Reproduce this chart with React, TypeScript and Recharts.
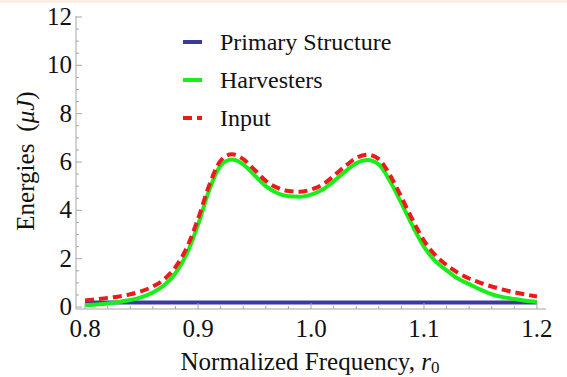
import React from 'react';
import { LineChart, Line, XAxis, YAxis, Legend, Label } from 'recharts';

const frequency = [
  0.8, 0.81, 0.82, 0.83, 0.84, 0.85, 0.86, 0.87, 0.88, 0.89,
  0.9, 0.91, 0.92, 0.93, 0.94, 0.95, 0.96, 0.97, 0.98, 0.99,
  1.0, 1.01, 1.02, 1.03, 1.04, 1.05, 1.06, 1.07, 1.08, 1.09,
  1.1, 1.11, 1.12, 1.13, 1.14, 1.15, 1.16, 1.17, 1.18, 1.19, 1.2,
];

const primaryStructure = [
  0.19, 0.19, 0.19, 0.19, 0.19, 0.19, 0.19, 0.19, 0.19, 0.19,
  0.19, 0.19, 0.19, 0.19, 0.19, 0.19, 0.19, 0.19, 0.19, 0.19,
  0.19, 0.19, 0.19, 0.19, 0.19, 0.19, 0.19, 0.19, 0.19, 0.19,
  0.19, 0.19, 0.19, 0.19, 0.19, 0.19, 0.19, 0.19, 0.19, 0.19, 0.19,
];

const harvesters = [
  0.08, 0.11, 0.15, 0.21, 0.29, 0.41, 0.6, 0.9, 1.4, 2.2,
  3.4, 4.85, 5.85, 6.1, 5.9, 5.45, 5.0, 4.72, 4.58, 4.56,
  4.65, 4.85, 5.2, 5.6, 5.95, 6.08, 5.9, 5.2, 4.3, 3.35,
  2.5, 1.9, 1.52, 1.18, 0.95, 0.72, 0.53, 0.41, 0.33, 0.26, 0.21,
];

const input = [
  0.27, 0.32, 0.38, 0.44, 0.53, 0.66, 0.85, 1.15, 1.65, 2.45,
  3.65, 5.05, 6.05, 6.32, 6.12, 5.68, 5.22, 4.94, 4.8, 4.77,
  4.86, 5.06, 5.42, 5.82, 6.17, 6.3, 6.12, 5.45, 4.55, 3.6,
  2.75, 2.15, 1.74, 1.42, 1.18, 1.0, 0.85, 0.72, 0.61, 0.52, 0.44,
];

const xMajorTicks = [0.8, 0.9, 1.0, 1.1, 1.2];
const xMinorTicks = [
  0.8, 0.82, 0.84, 0.86, 0.88, 0.9, 0.92, 0.94, 0.96, 0.98, 1.0,
  1.02, 1.04, 1.06, 1.08, 1.1, 1.12, 1.14, 1.16, 1.18, 1.2,
];
const yMajorTicks = [0, 2, 4, 6, 8, 10, 12];
const yMinorTicks = [
  0, 0.5, 1, 1.5, 2, 2.5, 3, 3.5, 4, 4.5, 5, 5.5, 6, 6.5, 7, 7.5, 8, 8.5, 9, 9.5,
  10, 10.5, 11, 11.5, 12,
];

const seriesInfo = [
  { key: 'primary', name: 'Primary Structure', color: '#3b3b9b', dash: undefined as string | undefined },
  { key: 'harvesters', name: 'Harvesters', color: '#1aee1a', dash: undefined as string | undefined },
  { key: 'input', name: 'Input', color: '#ee1a1a', dash: '9 5' },
];

const data = frequency.map((f, i) => ({
  f,
  primary: primaryStructure[i],
  harvesters: harvesters[i],
  input: input[i],
}));

const FONT = '"Liberation Serif", "Times New Roman", serif';
const FRAME = '#a6a6a6';

const isMajor = (v: number, majors: number[]) => majors.some((m) => Math.abs(m - v) < 1e-6);

const BottomTick = (props: any) => {
  const { x, y, payload } = props;
  const major = isMajor(payload.value, xMajorTicks);
  const len = major ? 6 : 3;
  return (
    <g>
      <line x1={x} x2={x} y1={y} y2={y - len} stroke={FRAME} strokeWidth={1} />
      {major && (
        <text x={x} y={y + 28} textAnchor="middle" style={{ fontFamily: FONT }} fontSize={25} fill="#111">
          {payload.value.toFixed(1)}
        </text>
      )}
    </g>
  );
};

const TopTick = (props: any) => {
  const { x, y, payload } = props;
  const major = isMajor(payload.value, xMajorTicks);
  const len = major ? 6 : 3;
  return <line x1={x} x2={x} y1={y} y2={y + len} stroke={FRAME} strokeWidth={1} />;
};

const LeftTick = (props: any) => {
  const { x, y, payload } = props;
  const major = isMajor(payload.value, yMajorTicks);
  const len = major ? 6 : 3;
  return (
    <g>
      <line x1={x} x2={x + len} y1={y} y2={y} stroke={FRAME} strokeWidth={1} />
      {major && (
        <text x={x - 4} y={y + 8} textAnchor="end" style={{ fontFamily: FONT }} fontSize={25} fill="#111">
          {payload.value}
        </text>
      )}
    </g>
  );
};

const RightTick = (props: any) => {
  const { x, y, payload } = props;
  const major = isMajor(payload.value, yMajorTicks);
  const len = major ? 6 : 3;
  return <line x1={x} x2={x - len} y1={y} y2={y} stroke={FRAME} strokeWidth={1} />;
};

const LegendContent = () => (
  <div style={{ fontFamily: FONT, fontSize: 24, color: '#111' }}>
    {seriesInfo.map((s) => (
      <div key={s.key} style={{ height: 38, display: 'flex', alignItems: 'center' }}>
        <svg width={37} height={10} style={{ display: 'block' }}>
          <line x1={0} x2={19} y1={5} y2={5} stroke={s.color} strokeWidth={4} strokeDasharray={s.dash} />
        </svg>
        <span style={{ lineHeight: '38px' }}>{s.name}</span>
      </div>
    ))}
  </div>
);

export default function App() {
  return (
    <div style={{ position: 'absolute', left: 0, top: 0, width: 567, height: 377, background: '#ffffff' }}>
      <div style={{ position: 'absolute', left: 0, top: 0, width: 567, height: 3, background: '#fbeee5' }} />
      <LineChart
        width={567}
        height={377}
        data={data}
        margin={{ top: 16, right: 21, left: 0, bottom: 0 }}
      >
        <XAxis
          xAxisId="bottom"
          dataKey="f"
          type="number"
          domain={[0.792, 1.208]}
          allowDataOverflow
          ticks={xMinorTicks}
          interval={0}
          tick={<BottomTick />}
          tickLine={false}
          tickSize={0}
          tickMargin={0}
          height={68}
          axisLine={{ stroke: FRAME, strokeWidth: 1 }}
        >
          <Label
            content={() => (
              <text x={310} y={370} textAnchor="middle" style={{ fontFamily: FONT }} fontSize={25} fill="#111">
                Normalized Frequency,{' '}
                <tspan fontStyle="italic">r</tspan>
                <tspan fontSize={17} dy={3}>0</tspan>
              </text>
            )}
          />
        </XAxis>
        <XAxis
          xAxisId="top"
          orientation="top"
          dataKey="f"
          type="number"
          domain={[0.792, 1.208]}
          allowDataOverflow
          ticks={xMinorTicks}
          interval={0}
          tick={<TopTick />}
          tickLine={false}
          tickSize={0}
          tickMargin={0}
          height={0}
          axisLine={{ stroke: FRAME, strokeWidth: 1 }}
        />
        <YAxis
          yAxisId="left"
          type="number"
          domain={[-0.08, 12.04]}
          allowDataOverflow
          ticks={yMinorTicks}
          interval={0}
          tick={<LeftTick />}
          tickLine={false}
          tickSize={0}
          tickMargin={0}
          width={76}
          axisLine={{ stroke: FRAME, strokeWidth: 1 }}
        >
          <Label
            content={() => (
              <text
                x={0}
                y={0}
                transform="translate(34 161) rotate(-90)"
                textAnchor="middle"
                style={{ fontFamily: FONT }}
                fontSize={25}
                fill="#111"
              >
                Energies
                <tspan dx={12}>(</tspan>
                <tspan fontStyle="italic">μJ</tspan>
                <tspan>)</tspan>
              </text>
            )}
          />
        </YAxis>
        <YAxis
          yAxisId="right"
          orientation="right"
          type="number"
          domain={[-0.08, 12.04]}
          allowDataOverflow
          ticks={yMinorTicks}
          interval={0}
          tick={<RightTick />}
          tickLine={false}
          tickSize={0}
          tickMargin={0}
          width={0}
          axisLine={{ stroke: FRAME, strokeWidth: 1 }}
        />
        <Legend
          layout="vertical"
          verticalAlign="middle"
          align="center"
          content={<LegendContent />}
          wrapperStyle={{ position: 'absolute', left: 183, top: 23, width: 260 }}
        />
        {seriesInfo.map((s) => (
          <Line
            key={s.key}
            xAxisId="bottom"
            yAxisId="left"
            type="monotone"
            dataKey={s.key}
            name={s.name}
            stroke={s.color}
            strokeWidth={4}
            strokeDasharray={s.dash}
            dot={false}
            activeDot={false}
            isAnimationActive={false}
          />
        ))}
      </LineChart>
    </div>
  );
}
